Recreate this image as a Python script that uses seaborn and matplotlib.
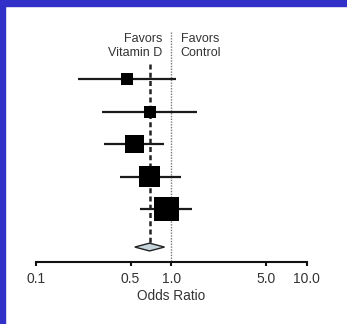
import numpy as np
import seaborn as sns
import matplotlib.pyplot as plt
from matplotlib.patches import Polygon, Rectangle

# Study estimates (odds ratios, 95% CI, weights)
odds_ratio = [0.47, 0.69, 0.535, 0.69, 0.92]
ci_low = [0.205, 0.305, 0.32, 0.414, 0.59]
ci_high = [1.09, 1.56, 0.89, 1.17, 1.41]
weight = [9, 9, 21, 26, 38]
study_row = [0, 1, 2, 3, 4]

# Pooled estimate (diamond)
pooled_or = 0.69
pooled_low = 0.537
pooled_high = 0.89
pooled_row = 5.17

tick_values = [0.1, 0.5, 1.0, 5.0, 10.0]
tick_labels = ['0.1', '0.5', '1.0', '5.0', '10.0']

sns.set_style('white')
plt.rcParams['font.family'] = ['Liberation Sans', 'DejaVu Sans']

fig = plt.figure(figsize=(3.47, 3.24), dpi=100)
fig.patch.set_facecolor('white')
# blue frame from the slide
fig.patches.append(Rectangle((0, 1 - 6 / 324), 1, 6 / 324, transform=fig.transFigure,
                             color='#3131c9', zorder=0))
fig.patches.append(Rectangle((0, 0), 5 / 347, 1, transform=fig.transFigure,
                             color='#3131c9', zorder=0))

ax = fig.add_axes([36 / 347, 62 / 324, 270.7 / 347, 232 / 324])
ax.set_xscale('log')
ax.set_xlim(0.1, 10)
ax.set_ylim(5.63, -1.51)

# reference lines
ax.vlines(1.0, -1.45, 5.63, color='#777777', lw=1.0, linestyles=(0, (1, 1)), zorder=1)
ax.vlines(pooled_or, -0.45, pooled_row, color='#222222', lw=1.8, linestyles=(0, (2, 1.3)), zorder=1)

# confidence intervals
ax.hlines(study_row, ci_low, ci_high, color='#1a1a1a', lw=1.6, zorder=2)

# study squares, area proportional to weight
df_w = np.array(weight)
sns.scatterplot(x=odds_ratio, y=study_row, size=weight, sizes=(8.4 * df_w.min(), 8.4 * df_w.max()),
                marker='s', color='black', edgecolor='black', linewidth=0, legend=False, ax=ax, zorder=3)

# pooled diamond
h = 0.12
diamond = Polygon([(pooled_low, pooled_row), (pooled_or, pooled_row - h),
                   (pooled_high, pooled_row), (pooled_or, pooled_row + h)],
                  closed=True, facecolor='#c6d4dc', edgecolor='#222222', lw=1.0, zorder=3)
ax.add_patch(diamond)

ax.text(0.86, -1.02, 'Favors\nVitamin D', ha='right', va='center', fontsize=9,
        color='#333333', linespacing=1.15)
ax.text(1.17, -1.02, 'Favors\nControl', ha='left', va='center', fontsize=9,
        color='#333333', linespacing=1.15)

sns.despine(ax=ax, left=True, top=True, right=True)
ax.spines['bottom'].set_color('#111111')
ax.spines['bottom'].set_linewidth(1.5)
ax.set_yticks([])
ax.set_xticks(tick_values)
ax.set_xticklabels(tick_labels)
ax.xaxis.set_minor_locator(plt.NullLocator())
ax.tick_params(axis='x', direction='out', length=3, width=1.5, color='#111111',
               labelsize=10, labelcolor='#333333', pad=4, bottom=True)
ax.set_xlabel('Odds Ratio', fontsize=9.8, color='#333333', labelpad=2)
ax.set_facecolor('white')

fig.savefig('out.png', dpi=100)
